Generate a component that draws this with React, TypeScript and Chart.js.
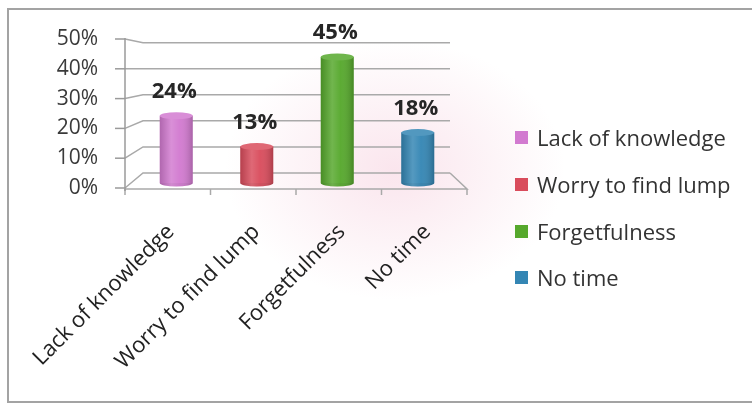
import React, { useEffect, useRef } from "react";
import { Chart, registerables } from "chart.js";

Chart.register(...registerables);

const categories = ["Lack of knowledge", "Worry to find lump", "Forgetfulness", "No time"];
const values = [24, 13, 45, 18];
const colors = ["#d27ad0", "#d94c5c", "#56a82c", "#3486b4"];
const yTicks = [0, 10, 20, 30, 40, 50];
const categoryTicks = [0, 1, 2, 3];

const FONT = "'Open Sans', 'DejaVu Sans', sans-serif";

function shade(hex: string, amt: number) {
  const n = parseInt(hex.slice(1), 16);
  let r = (n >> 16) & 255, g = (n >> 8) & 255, b = n & 255;
  if (amt >= 0) {
    r = Math.round(r + (255 - r) * amt); g = Math.round(g + (255 - g) * amt); b = Math.round(b + (255 - b) * amt);
  } else {
    r = Math.round(r * (1 + amt)); g = Math.round(g * (1 + amt)); b = Math.round(b * (1 + amt));
  }
  return `rgb(${r},${g},${b})`;
}

const frame3d = {
  id: "frame3d",
  beforeDatasetsDraw(chart: any) {
    const ctx = chart.ctx;
    const ca = chart.chartArea;
    const yf = chart.scales.yf;
    const fl = ca.left - 11, fr = ca.right + 9;
    const bl = ca.left + 7, br = ca.right - 8;
    const front = (v: number) => yf.getPixelForValue(v);
    const f0 = front(0);
    const back = (v: number) => f0 - 15 - (f0 - front(v)) * 0.875;
    ctx.save();
    ctx.lineWidth = 1.5;
    ctx.strokeStyle = "#a9a9a9";
    yTicks.forEach((v) => {
      ctx.beginPath();
      ctx.moveTo(fl, front(v));
      ctx.lineTo(bl, back(v));
      ctx.lineTo(br, back(v));
      ctx.stroke();
    });
    ctx.beginPath();
    ctx.moveTo(br, back(0));
    ctx.lineTo(fr, f0 + 1);
    ctx.lineTo(fl, f0 + 1);
    ctx.stroke();
    for (let i = 0; i <= categories.length; i++) {
      const px = fl + (i * (fr - fl)) / categories.length;
      ctx.beginPath();
      ctx.moveTo(px, f0 + 1);
      ctx.lineTo(px, f0 + 7);
      ctx.stroke();
    }
    ctx.strokeStyle = "#9a9a9a";
    ctx.beginPath();
    ctx.moveTo(fl, front(50) - 1);
    ctx.lineTo(fl, f0 + 3);
    ctx.stroke();
    yTicks.forEach((v) => {
      ctx.beginPath();
      ctx.moveTo(fl - 10, front(v));
      ctx.lineTo(fl, front(v));
      ctx.stroke();
    });
    ctx.restore();
  },
  afterDatasetsDraw(chart: any) {
    const ctx = chart.ctx;
    const meta = chart.getDatasetMeta(0);
    ctx.save();
    meta.data.forEach((el: any, i: number) => {
      const { x, y, base, width } = el.getProps(["x", "y", "base", "width"], true);
      const w = width, l = x - w / 2, ry = 3.5;
      const c = colors[i];
      ctx.fillStyle = shade(c, -0.05);
      ctx.beginPath();
      ctx.ellipse(x, base, w / 2, ry, 0, 0, Math.PI);
      ctx.fill();
      const g = ctx.createLinearGradient(l, 0, l + w, 0);
      g.addColorStop(0, "rgba(0,0,0,0.16)");
      g.addColorStop(0.35, "rgba(255,255,255,0.16)");
      g.addColorStop(0.6, "rgba(255,255,255,0.04)");
      g.addColorStop(1, "rgba(0,0,0,0.2)");
      ctx.fillStyle = g;
      ctx.beginPath();
      ctx.moveTo(l, y);
      ctx.lineTo(l, base);
      ctx.ellipse(x, base, w / 2, ry, 0, Math.PI, 0, true);
      ctx.lineTo(l + w, y);
      ctx.closePath();
      ctx.fill();
      ctx.fillStyle = shade(c, 0.15);
      ctx.beginPath();
      ctx.ellipse(x, y, w / 2, ry, 0, 0, Math.PI * 2);
      ctx.fill();
      ctx.fillStyle = "#262626";
      ctx.font = `bold 22px ${FONT}`;
      ctx.textAlign = "center";
      ctx.textBaseline = "alphabetic";
      ctx.fillText(`${values[i]}%`, x - 2, y - 18);
    });
    ctx.restore();
  },
};

export default function App() {
  const ref = useRef<HTMLCanvasElement | null>(null);
  useEffect(() => {
    if (!ref.current) return;
    Chart.defaults.font.family = FONT;
    const chart = new Chart(ref.current, {
      type: "bar",
      data: {
        labels: categories,
        datasets: [
          {
            data: values,
            backgroundColor: colors,
            borderWidth: 0,
            barPercentage: 0.41,
            categoryPercentage: 1,
            xAxisID: "x",
            yAxisID: "y",
          },
        ],
      },
      options: {
        responsive: false,
        animation: false,
        events: [],
        layout: { padding: { top: 39, right: 294, bottom: 0, left: 0 } },
        plugins: { legend: { display: false }, tooltip: { enabled: false } },
        scales: {
          x: { display: false, type: "category" },
          y: { display: false, min: -1.786, max: 51.43, bounds: "data" },
          xl: {
            type: "linear",
            position: "bottom",
            bounds: "data",
            offset: false,
            min: -0.371,
            max: 3.395,
            afterBuildTicks: (s: any) => {
              s.ticks = categoryTicks.map((v) => ({ value: v }));
            },
            afterFit: (s: any) => {
              s.height = 220;
              s.paddingLeft = 0;
              s.paddingRight = 0;
            },
            grid: { display: false, drawTicks: false, offset: false },
            border: { display: false },
            ticks: {
              callback: (v: any) => categories[v] ?? "",
              minRotation: 45,
              maxRotation: 45,
              autoSkip: false,
              padding: 31,
              labelOffset: 3,
              color: "#222",
              font: { size: 22, family: FONT },
            },
          },
          yf: {
            type: "linear",
            position: "left",
            bounds: "data",
            min: 0,
            max: 50,
            afterBuildTicks: (s: any) => {
              s.ticks = yTicks.map((v) => ({ value: v }));
            },
            afterFit: (s: any) => {
              s.width = 136;
              s.paddingTop = 0;
              s.paddingBottom = 0;
            },
            grid: { display: false, drawTicks: false },
            border: { display: false },
            ticks: {
              callback: (v: any) => `${v}%`,
              autoSkip: false,
              padding: 38,
              color: "#3a3a3a",
              font: { size: 21, family: FONT },
            },
          },
        },
      },
      plugins: [frame3d],
    } as any);
    return () => chart.destroy();
  }, []);

  return (
    <div
      style={{
        position: "fixed",
        left: 0,
        top: 0,
        width: 752,
        height: 408,
        overflow: "hidden",
        background:
          "radial-gradient(ellipse 170px 130px at 395px 170px, rgba(247,212,225,0.6), rgba(255,255,255,0) 100%), #fff",
      }}
    >
      <div
        style={{
          position: "absolute",
          left: 7,
          top: 8,
          width: 800,
          height: 391,
          border: "2px solid #a3a3a3",
        }}
      />
      <canvas ref={ref} width={752} height={408} style={{ position: "absolute", left: 0, top: 0 }} />
      {categories.map((c, i) => (
        <div
          key={c}
          style={{
            position: "absolute",
            left: 515,
            top: [138, 185, 232, 278][i] - 15,
            height: 28,
            display: "flex",
            alignItems: "center",
            fontFamily: FONT,
            fontSize: 22,
            color: "#333",
            whiteSpace: "nowrap",
          }}
        >
          <span style={{ width: 13, height: 13, background: colors[i], display: "inline-block", marginRight: 9 }} />
          <span>{c}</span>
        </div>
      ))}
    </div>
  );
}
